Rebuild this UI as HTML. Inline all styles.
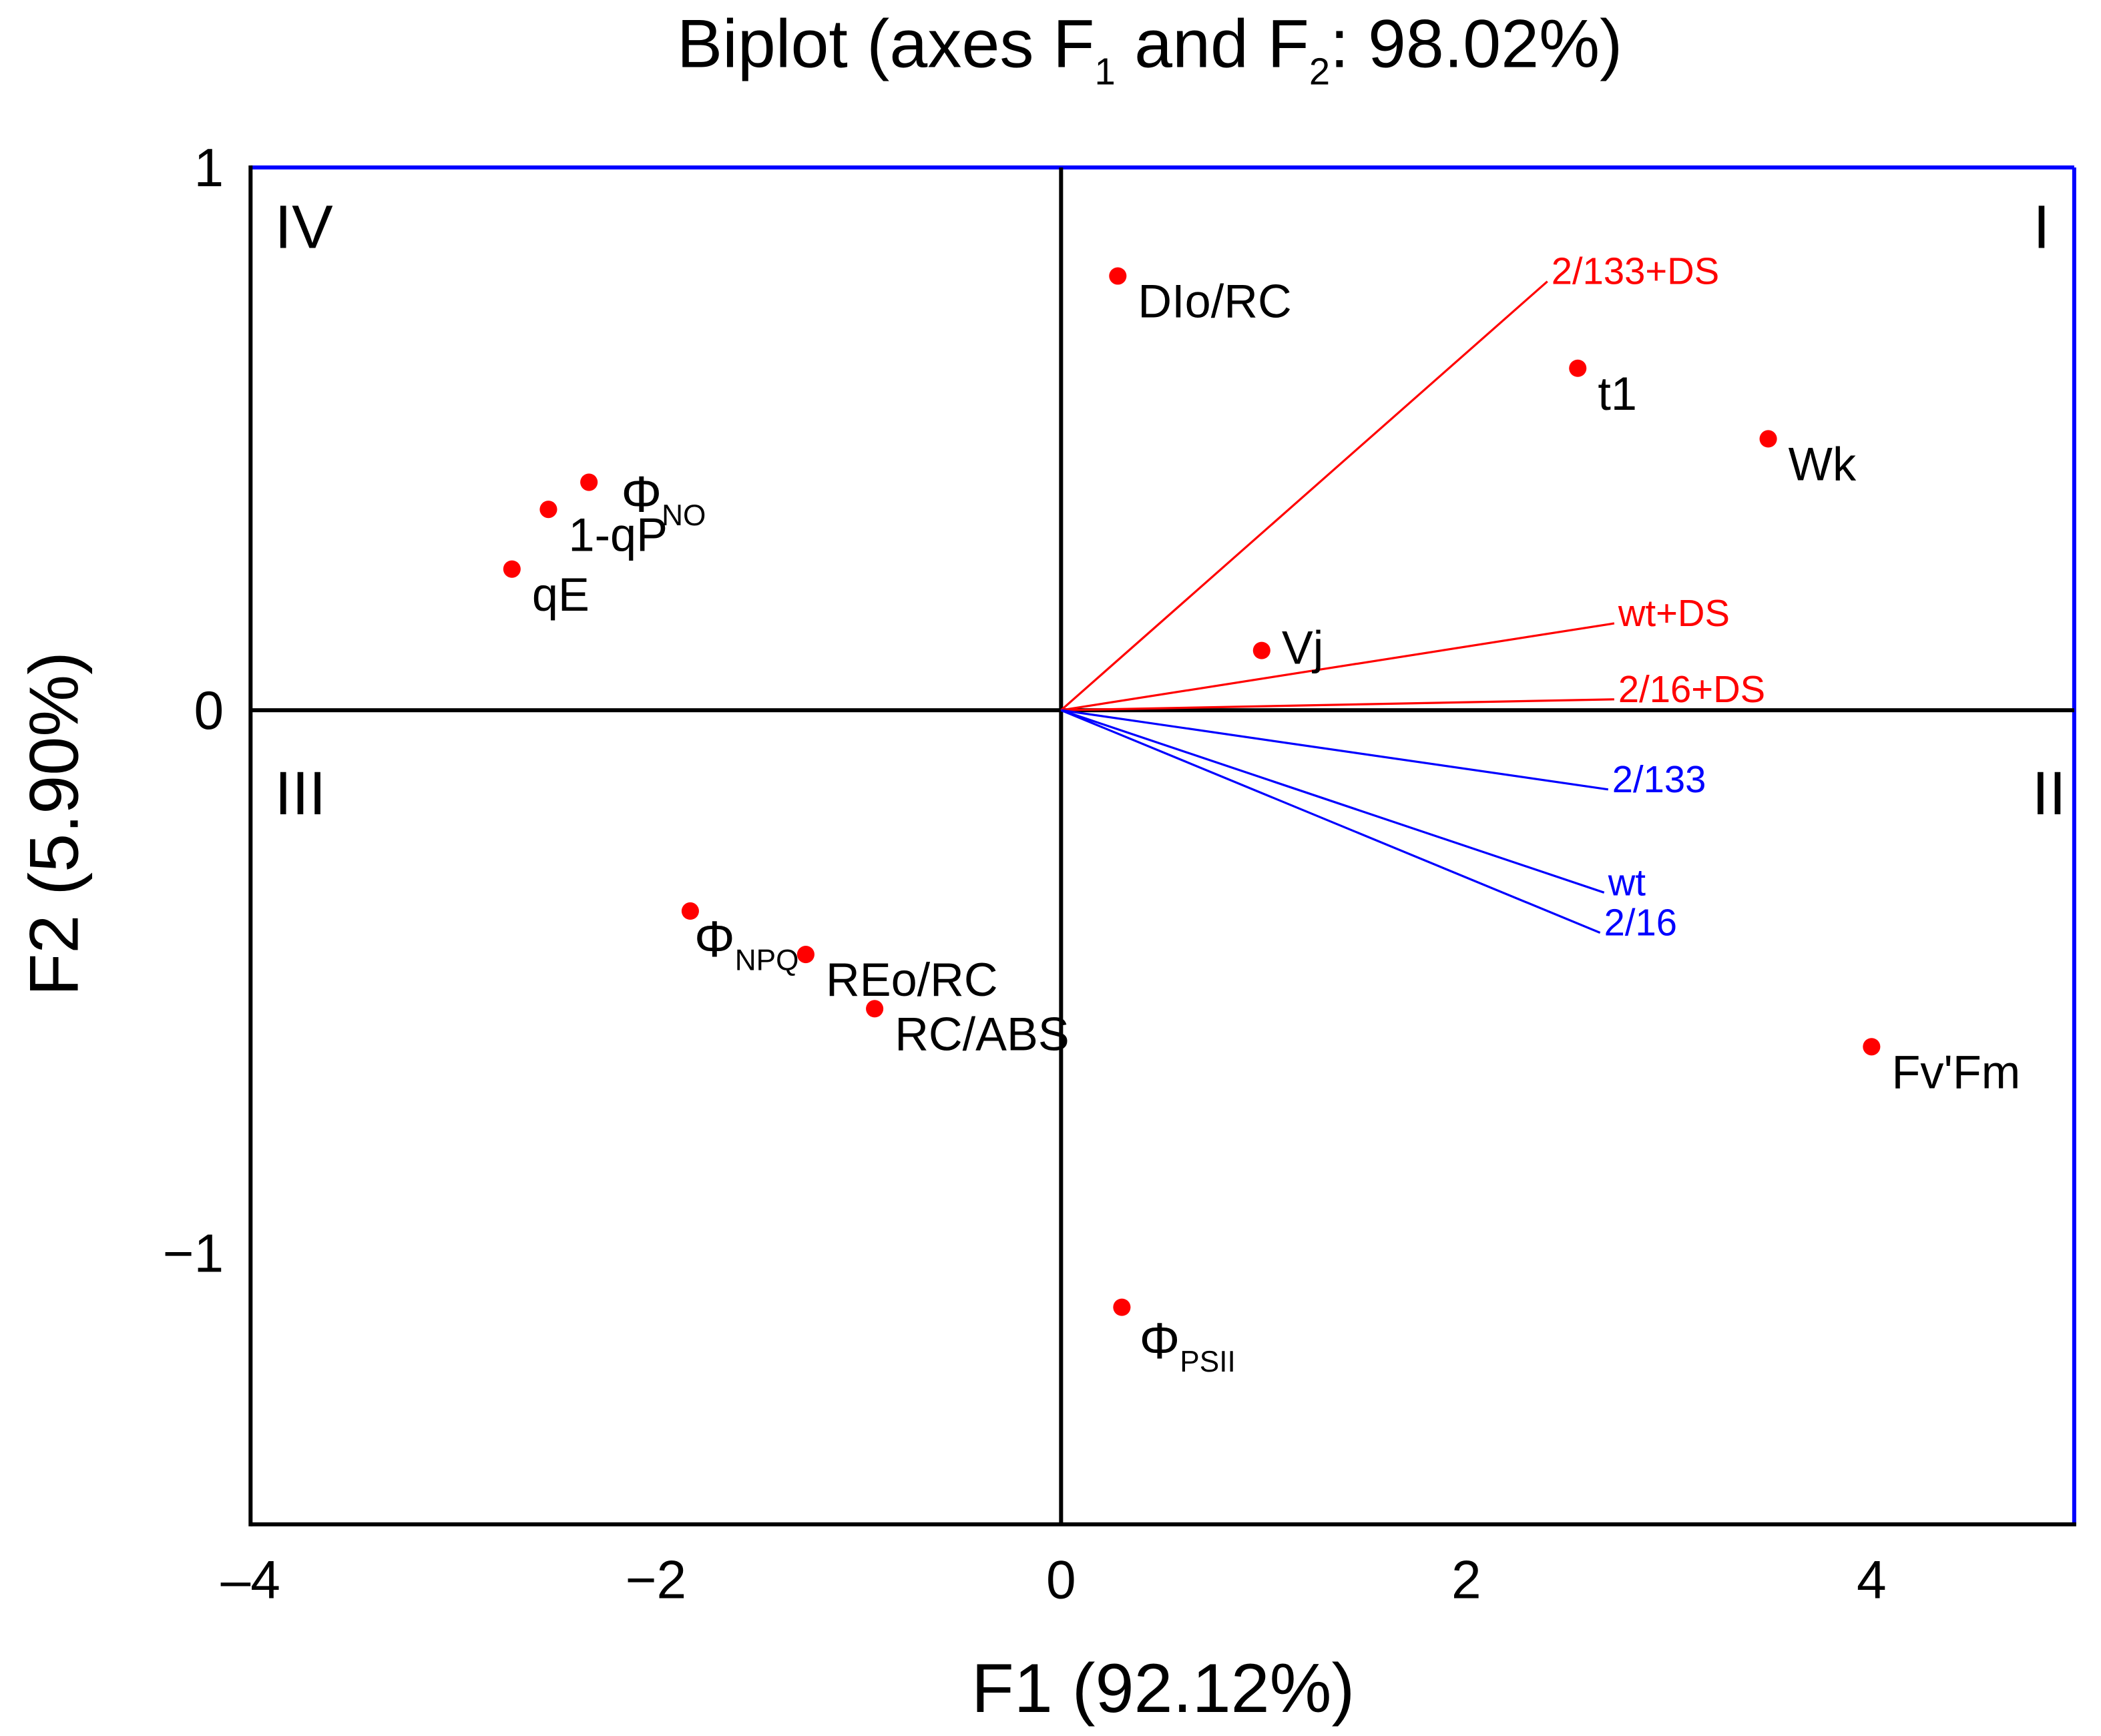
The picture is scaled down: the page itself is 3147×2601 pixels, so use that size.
<!DOCTYPE html>
<html><head><meta charset="utf-8"><style>
html,body{margin:0;padding:0;background:#fff}
svg{display:block;font-family:"Liberation Sans",Arial,sans-serif}
</style></head><body>
<svg id="chart" width="3147" height="2601" viewBox="0 0 1568 1296" preserveAspectRatio="none" xmlns="http://www.w3.org/2000/svg">
<text x="858" y="50" font-size="51" text-anchor="middle">Biplot (axes F<tspan font-size="28" dy="13">1</tspan><tspan dy="-13"> and F</tspan><tspan font-size="28" dy="13">2</tspan><tspan dy="-13">: 98.02%)</tspan></text>
<g id="plot"></g>
<text x="868" y="1278" font-size="52" text-anchor="middle">F1 (92.12%)</text>
<text transform="translate(58,615) rotate(-90)" font-size="52" text-anchor="middle">F2 (5.90%)</text>
</svg>
<script>
const xTicks=[-4,-2,0,2,4];
const yTicks=[1,0,-1];
const xTickLabels=["\u20134","\u22122","0","2","4"];
const yTickLabels=["1","0","\u22121"];
const pointNames=["DIo/RC","t1","Wk","\u03a6|NO","1-qP","qE","Vj","\u03a6|NPQ","REo/RC","RC/ABS","Fv'Fm","\u03a6|PSII"];
const pointX=[0.28,2.55,3.49,-2.33,-2.53,-2.71,0.99,-1.83,-1.26,-0.92,4.0,0.30];
const pointY=[0.80,0.63,0.50,0.42,0.37,0.26,0.11,-0.37,-0.45,-0.55,-0.62,-1.10];
const vecNames=["2/133+DS","wt+DS","2/16+DS","2/133","wt","2/16"];
const vecX=[2.40,2.73,2.73,2.70,2.68,2.66];
const vecY=[0.79,0.16,0.02,-0.146,-0.336,-0.41];
const vecColor=["red","red","red","blue","blue","blue"];

const X0=-4,X1=5,Y0=-1.5,Y1=1;
const L=187,R=1548,T=125,B=1138;
const sx=v=>L+(v-X0)/(X1-X0)*(R-L);
const sy=v=>B-(v-Y0)/(Y1-Y0)*(B-T);
const NS="http://www.w3.org/2000/svg";
const g=document.getElementById('plot');
function mk(tag,attrs,parent){const e=document.createElementNS(NS,tag);for(const k in attrs)e.setAttribute(k,attrs[k]);(parent||g).appendChild(e);return e;}

let e;
e=mk('line',{x1:L,y1:T,x2:R,y2:T,stroke:'#0000ff','stroke-width':3});


e=mk('line',{x1:R,y1:T,x2:R,y2:B,stroke:'#0000ff','stroke-width':3});


e=mk('line',{x1:L,y1:T-1.5,x2:L,y2:B+1.5,stroke:'#000','stroke-width':3});


e=mk('line',{x1:L,y1:B,x2:R+1.5,y2:B,stroke:'#000','stroke-width':3});


e=mk('line',{x1:sx(0),y1:T,x2:sx(0),y2:B,stroke:'#000','stroke-width':3});


e=mk('line',{x1:L,y1:sy(0),x2:R,y2:sy(0),stroke:'#000','stroke-width':3});



xTicks.forEach((v,i)=>{
  const t=mk('text',{x:sx(v),y:1193,'font-size':40,'text-anchor':'middle'});
  t.textContent=xTickLabels[i];
  
  
});
yTicks.forEach((v,i)=>{
  const t=mk('text',{x:167,y:sy(v)+14,'font-size':40,'text-anchor':'end'});
  t.textContent=yTickLabels[i];
  
  
});

[["IV",205,185,'start'],["I",1530,185,'end'],["III",205,608,'start'],["II",1542,608,'end']].forEach(q=>{
  const t=mk('text',{x:q[1],y:q[2],'font-size':46,'text-anchor':q[3]});
  t.textContent=q[0];
  
  
});

vecNames.forEach((n,i)=>{
  const ln=mk('line',{x1:sx(0),y1:sy(0),x2:sx(vecX[i]),y2:sy(vecY[i]),stroke:vecColor[i],'stroke-width':1.6});
  
  
  const t=mk('text',{x:sx(vecX[i])+3,y:sy(vecY[i])+2,'font-size':28,fill:vecColor[i]});
  t.textContent=n;
  
  
});

const specialOffsets={"\u03a6|NO":[24,22],"\u03a6|NPQ":[3,34],"\u03a6|PSII":[13,38],"Vj":[15,10]};
pointNames.forEach((n,i)=>{
  const cx=sx(pointX[i]),cy=sy(pointY[i]);
  const c=mk('circle',{cx:cx,cy:cy,r:6.5,fill:'red'});
  
  
  const off=specialOffsets[n]||[15,31];
  const t=mk('text',{x:cx+off[0],y:cy+off[1],'font-size':35});
  const parts=n.split('|');
  if(parts.length>1){
    t.setAttribute('font-size',38);
    const a=document.createElementNS(NS,'tspan');a.textContent=parts[0];t.appendChild(a);
    const b=document.createElementNS(NS,'tspan');b.setAttribute('font-size',22);b.setAttribute('dy',10);b.textContent=parts[1];t.appendChild(b);
  } else t.textContent=n;
  
  
});
</script>
</body></html>
